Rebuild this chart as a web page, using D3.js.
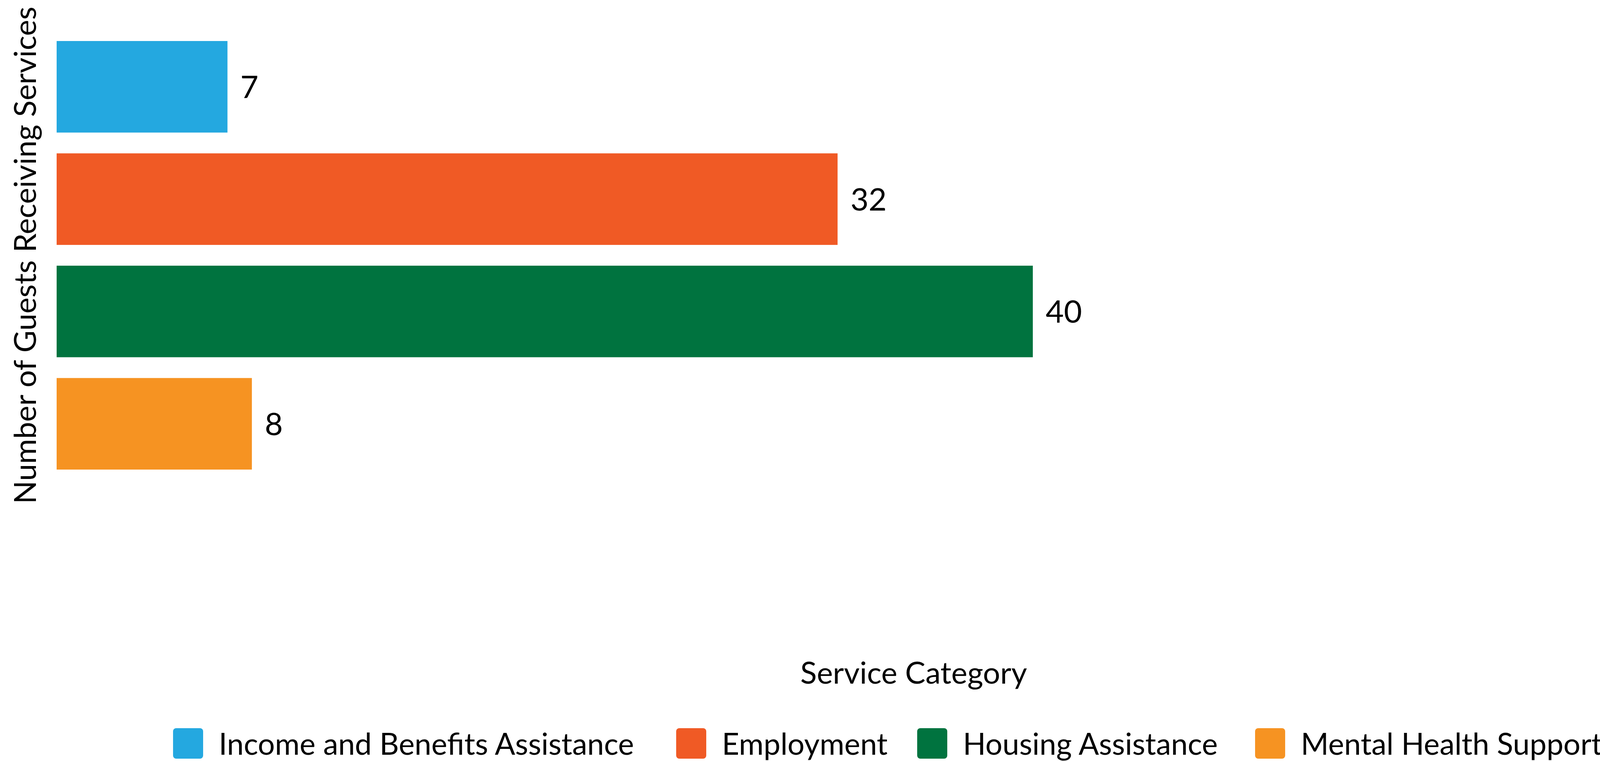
<!DOCTYPE html>
<html>
<head>
<meta charset="utf-8">
<script src="https://cdn.jsdelivr.net/npm/d3@7"></script>
<style>
  html, body { margin: 0; padding: 0; background: #fff; overflow: hidden; }
  svg { display: block; font-family: Lato, "Open Sans", sans-serif; }
</style>
</head>
<body>
<svg id="chart"></svg>
<script>
// Data
const categories = ["Income and Benefits Assistance", "Employment", "Housing Assistance", "Mental Health Support"];
const guestCounts = [7, 32, 40, 8];
const barColors = ["#24A8E0", "#F05A25", "#00733F", "#F69322"];

const xTitle = "Service Category";
const yTitle = "Number of Guests Receiving Services";

// Layout
const W = 4133, H = 1948;
const PLOT = { left: 145, right: 2644, top: 78.4, bottom: 1228.6 };
const LEGEND = { x: [443, 1731, 2348, 3213], top: 1864, baseline: 1932, sw: 77, sh: 78, gap: 40 };

const svg = d3.select("#chart").attr("width", W).attr("height", H);

const data = categories.map((c, i) => ({ cat: c, value: guestCounts[i], color: barColors[i] }));

const x = d3.scaleLinear().domain([0, 40]).range([PLOT.left, PLOT.right]);
const y = d3.scaleBand()
  .domain(categories)
  .range([PLOT.top, PLOT.bottom])
  .paddingInner(0.185)
  .paddingOuter(0.0925);

// Bars
svg.append("g").selectAll("rect")
  .data(data)
  .enter()
  .append("rect")
  .attr("x", x(0))
  .attr("y", d => y(d.cat))
  .attr("width", d => x(d.value) - x(0))
  .attr("height", y.bandwidth())
  .attr("fill", d => d.color);

// Value labels
svg.append("g").selectAll("text")
  .data(data)
  .enter()
  .append("text")
  .attr("x", d => x(d.value) + 33)
  .attr("y", d => y(d.cat) + y.bandwidth() / 2)
  .attr("dy", "0.36em")
  .attr("font-size", 80)
  .attr("fill", "#000")
  .text(d => d.value);

// Axis titles
svg.append("text")
  .attr("transform", `translate(92, ${(PLOT.top + PLOT.bottom) / 2}) rotate(-90)`)
  .attr("text-anchor", "middle")
  .attr("font-size", 78)
  .attr("fill", "#000")
  .text(yTitle);

svg.append("text")
  .attr("x", 2339)
  .attr("y", 1750)
  .attr("text-anchor", "middle")
  .attr("font-size", 78)
  .attr("fill", "#000")
  .text(xTitle);

// Legend
const items = svg.append("g").selectAll("g")
  .data(data)
  .enter()
  .append("g")
  .attr("transform", (d, i) => `translate(${LEGEND.x[i]}, 0)`);

items.append("rect")
  .attr("y", LEGEND.top)
  .attr("width", LEGEND.sw)
  .attr("height", LEGEND.sh)
  .attr("rx", 8)
  .attr("fill", d => d.color);

items.append("text")
  .attr("x", LEGEND.sw + LEGEND.gap)
  .attr("y", LEGEND.baseline)
  .attr("font-size", 77)
  .attr("fill", "#000")
  .text(d => d.cat);
</script>
</body>
</html>
